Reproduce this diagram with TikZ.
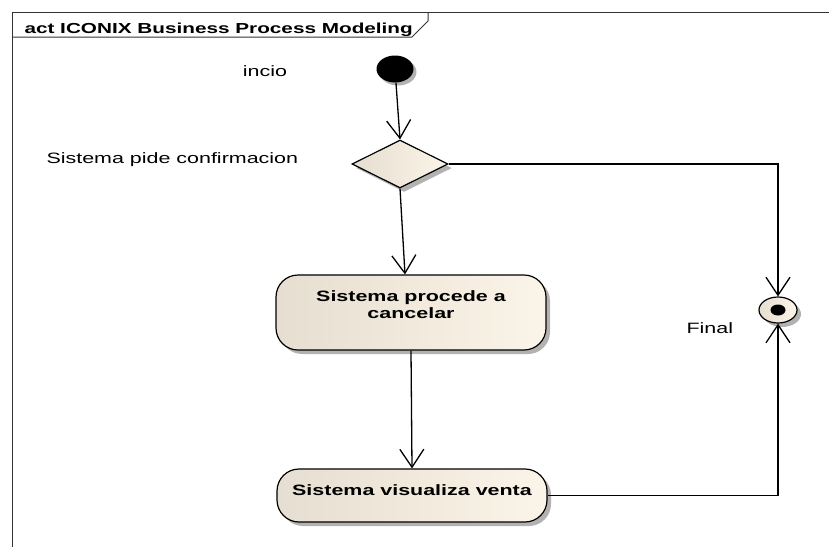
\documentclass[tikz,border=0pt]{standalone}
\usepackage{fontspec}
\setmainfont{Liberation Sans}[FakeStretch=1.43]
\usetikzlibrary{arrows.meta, positioning, calc, shapes.geometric, shadows}
\definecolor{actleft}{RGB}{230,222,208}
\definecolor{actright}{RGB}{251,244,232}

\begin{document}
\begin{tikzpicture}[
      x=1pt, y=-1pt,
      every node/.style={font=\fontsize{15}{17}\selectfont},
      >={Straight Barb[length=18pt, width=24pt]},
      conn/.style={->, line width=1.3pt},
      beige/.style={left color=actleft, right color=actright,
        drop shadow={shadow xshift=4pt, shadow yshift=-4pt, opacity=0.3, fill=black}},
      actbox/.style={beige, draw, line width=1.2pt, rounded corners=22pt,
        minimum width=270pt, inner sep=0pt},
      acttext/.style={anchor=north, yshift=-13pt, align=center,
        font=\fontsize{15}{17}\selectfont\bfseries}
    ]
      \useasboundingbox (0,0) rectangle (829,547);
      % frame
      \draw[line width=1pt, black!80] (12,547) -- (12,12) -- (829,12);
      \draw[line width=1pt, black!80] (12,37) -- (412,37) -- (428,21) -- (428,12);
      \node[anchor=base west, font=\fontsize{14.5}{17}\selectfont\bfseries] (title) at (21,33) {act ICONIX Business Process Modeling};
      % nodes
      \node[ellipse, fill=black, minimum width=37pt, minimum height=27pt,
        drop shadow={shadow xshift=3pt, shadow yshift=-3pt, opacity=0.3, fill=black}] (ini) at (395,69) {};
      \node[diamond, aspect=2, draw, line width=1.2pt, beige, minimum width=96pt,
        minimum height=48pt, inner sep=0pt] (dec) at (400,164) {};
      \node[actbox, minimum height=75pt,
        label={[acttext]north:{Sistema procede a\\cancelar}}] (proc) at (411,312.5) {};
      \node[actbox, minimum height=53pt,
        label={[acttext]north:{Sistema visualiza venta}}] (vis) at (412,495.5) {};
      \node[ellipse, draw, line width=1.2pt, beige, minimum width=38pt, minimum height=26pt,
        path picture={\fill[black] (path picture bounding box.center) ellipse (7.5pt and 5.5pt);}] (fin) at (778,310) {};
      % labels
      \node[anchor=base] (lini) at (265,76) {incio};
      \node[anchor=base west] (ldec) at (43,163) {Sistema pide confirmacion};
      \node[anchor=base west] (lfin) at (683,333) {Final};
      % flows
      \draw[conn] (ini) -- (dec.north);
      \draw[conn] (dec.south) -- ([xshift=-6pt]proc.north);
      \draw[conn] (dec.east) -| (fin.north);
      \draw[conn] (proc.south) -- (vis.north);
      \draw[conn] (vis.east) -| (fin.south);
    \end{tikzpicture}
\end{document}
